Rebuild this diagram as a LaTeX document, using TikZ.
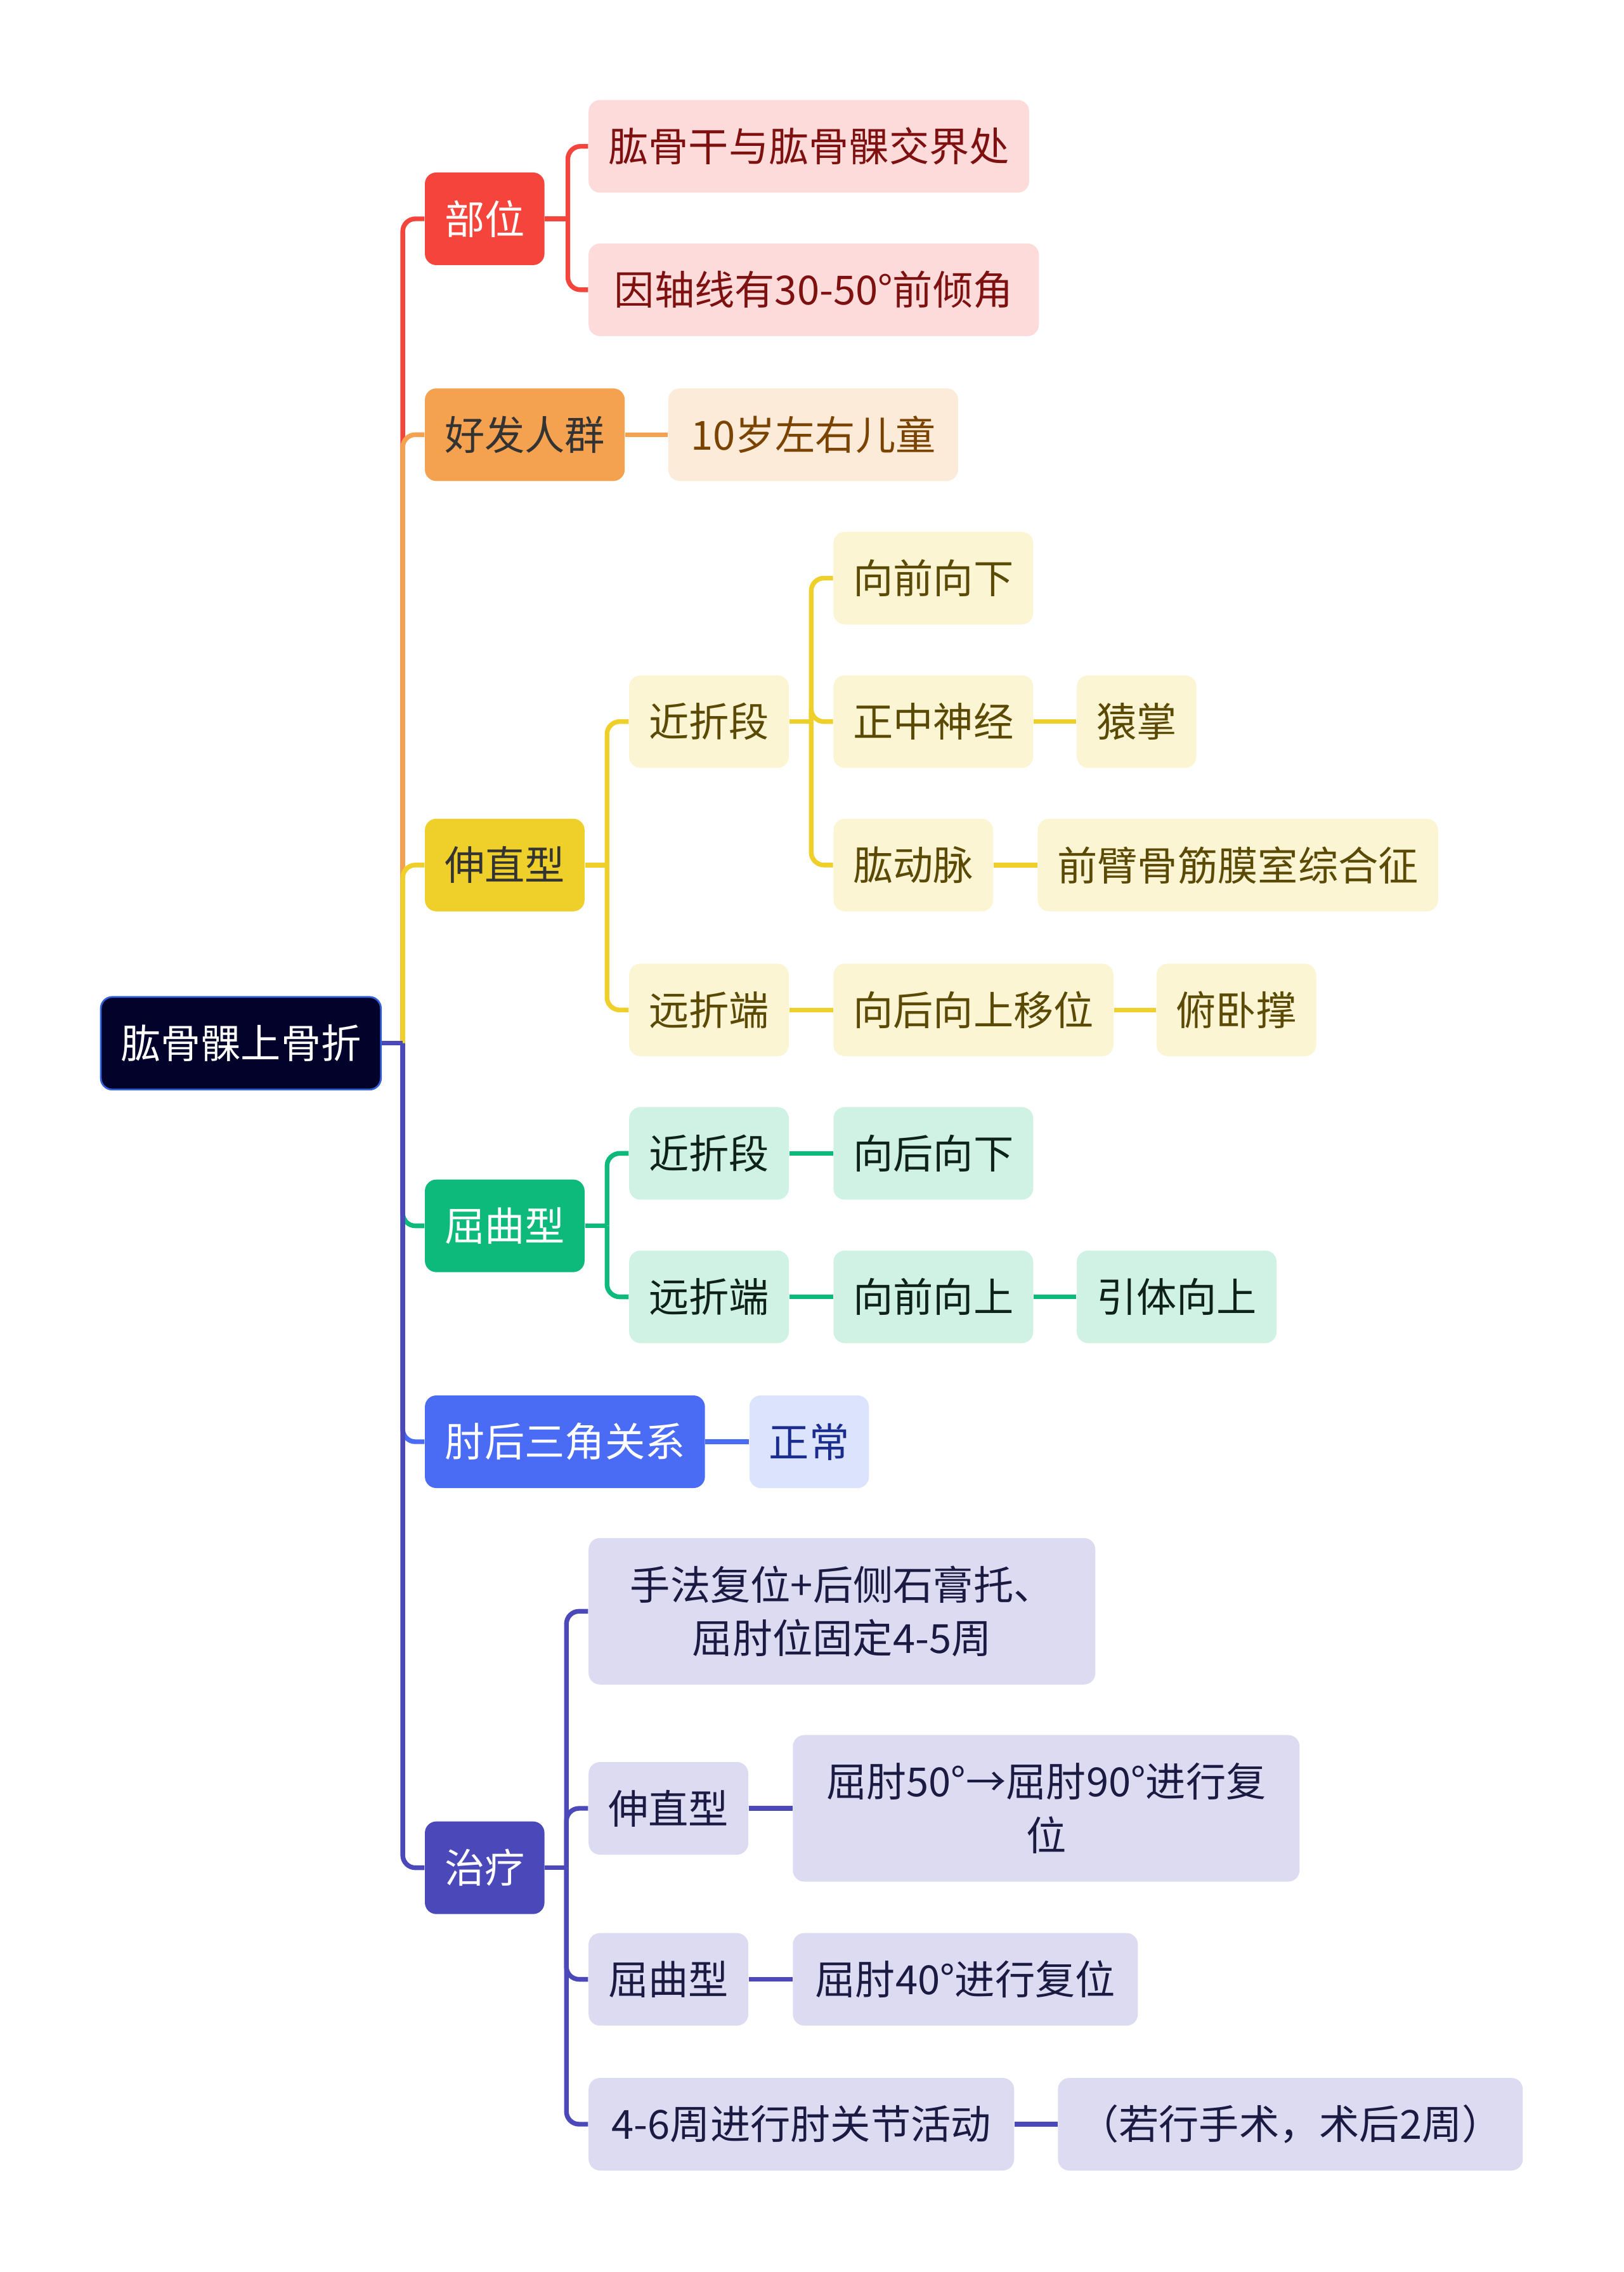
\documentclass[tikz,border=0pt]{standalone}
\usepackage{fontspec}
\setmainfont{Noto Sans CJK SC}
\usepackage{tikz}

\definecolor{rootfill}{HTML}{02022B}
\definecolor{rootline}{HTML}{3362D8}
\definecolor{darktext}{HTML}{333333}
\definecolor{redmain}{HTML}{F5443B}
\definecolor{redsoft}{HTML}{FDDBDB}
\definecolor{redtext}{HTML}{7E1010}
\definecolor{orgmain}{HTML}{F4A24F}
\definecolor{orgsoft}{HTML}{FDEBDA}
\definecolor{orgtext}{HTML}{7B4300}
\definecolor{ylwmain}{HTML}{EFD02A}
\definecolor{ylwsoft}{HTML}{FBF5D3}
\definecolor{ylwtext}{HTML}{5A4A05}
\definecolor{grnmain}{HTML}{0DBA7B}
\definecolor{grnsoft}{HTML}{CFF2E4}
\definecolor{grntext}{HTML}{0E2219}
\definecolor{blumain}{HTML}{4A6CF5}
\definecolor{blusoft}{HTML}{DCE3FC}
\definecolor{blutext}{HTML}{1A2C8E}
\definecolor{indmain}{HTML}{4B49BA}
\definecolor{indsoft}{HTML}{DCDBF2}
\definecolor{indtext}{HTML}{1A1A42}

\begin{document}
\begin{tikzpicture}[x=0.022837cm, y=-0.022837cm,
    box/.style={
        rounded corners=0.18cm,
        minimum height=1.46cm,
        inner xsep=0.31cm,
        inner ysep=0pt,
        anchor=west,
        font=\fontsize{18}{24}\selectfont
    },
    rootbox/.style={
        box,
        fill=rootfill,
        draw=rootline,
        line width=0.8pt,
        text=white
    },
    topic/.style={
        box,
        fill=#1main,
        text=white
    },
    leaf/.style={
        box,
        fill=#1soft,
        text=#1text
    },
    twoline/.style={
        text width=7.37cm,
        align=center,
        minimum height=2.31cm
    },
    link/.style={
        line width=2.1pt
    },
    fork/.style={
        link,
        rounded corners=0.2cm
    }
]

\node[rootbox] (root) at (69,720) {肱骨髁上骨折};

\node[topic=red] (buwei) at (293,151) {部位};
\node[leaf=red] (buwei-a) at (406,101) {肱骨干与肱骨髁交界处};
\node[leaf=red, minimum width=7.10cm] (buwei-b) at (406,200) {因轴线有30-50°前倾角};

\node[topic=org, text=darktext] (renqun) at (293,300) {好发人群};
\node[leaf=org, minimum width=4.57cm] (renqun-a) at (461,300) {10岁左右儿童};

\node[topic=ylw, text=darktext] (shenzhi) at (293,597) {伸直型};
\node[leaf=ylw] (sz-jin) at (434,498) {近折段};
\node[leaf=ylw] (sz-yuan) at (434,697) {远折端};
\node[leaf=ylw] (sz-jin-a) at (575,399) {向前向下};
\node[leaf=ylw] (sz-jin-b) at (575,498) {正中神经};
\node[leaf=ylw] (sz-jin-b1) at (743,498) {猿掌};
\node[leaf=ylw] (sz-jin-c) at (575,597) {肱动脉};
\node[leaf=ylw] (sz-jin-c1) at (716,597) {前臂骨筋膜室综合征};
\node[leaf=ylw] (sz-yuan-a) at (575,697) {向后向上移位};
\node[leaf=ylw] (sz-yuan-a1) at (798,697) {俯卧撑};

\node[topic=grn] (ququ) at (293,846) {屈曲型};
\node[leaf=grn] (qq-jin) at (434,796) {近折段};
\node[leaf=grn] (qq-yuan) at (434,895) {远折端};
\node[leaf=grn] (qq-jin-a) at (575,796) {向后向下};
\node[leaf=grn] (qq-yuan-a) at (575,895) {向前向上};
\node[leaf=grn] (qq-yuan-a1) at (743,895) {引体向上};

\node[topic=blu] (zhouhou) at (293,995) {肘后三角关系};
\node[leaf=blu] (zhouhou-a) at (517,995) {正常};

\node[topic=ind] (zhiliao) at (293,1289) {治疗};
\node[leaf=ind, twoline] (zl-a) at (406,1112) {手法复位+后侧石膏托、\\屈肘位固定4-5周};
\node[leaf=ind] (zl-b) at (406,1248) {伸直型};
\node[leaf=ind, twoline] (zl-b1) at (547,1248) {屈肘50°→屈肘90°进行复\\位};
\node[leaf=ind] (zl-c) at (406,1366) {屈曲型};
\node[leaf=ind, minimum width=5.44cm] (zl-c1) at (547,1366) {屈肘40°进行复位};
\node[leaf=ind, minimum width=6.71cm] (zl-d) at (406,1466) {4-6周进行肘关节活动};
\node[leaf=ind, minimum width=7.33cm] (zl-d1) at (730,1466) {（若行手术，术后2周）};

\coordinate (root-j) at (278,720);
\coordinate (buwei-j) at (392,151);
\coordinate (shenzhi-j) at (419,597);
\coordinate (szjin-j) at (560,498);
\coordinate (ququ-j) at (419,846);
\coordinate (zhiliao-j) at (391,1289);

\foreach \c/\col in {buwei/redmain,renqun/orgmain,shenzhi/ylwmain,ququ/grnmain,zhouhou/blumain,zhiliao/indmain}{
    \draw[fork, draw=\col] (root-j) |- (\c.west);
}
\draw[link, draw=indmain] (root.east) -- (root-j);

\draw[link, draw=redmain] (buwei.east) -- (buwei-j);
\foreach \c in {buwei-a,buwei-b}{
    \draw[fork, draw=redmain] (buwei-j) |- (\c.west);
}

\draw[link, draw=orgmain] (renqun.east) -- (renqun-a.west);

\draw[link, draw=ylwmain] (shenzhi.east) -- (shenzhi-j);
\foreach \c in {sz-jin,sz-yuan}{
    \draw[fork, draw=ylwmain] (shenzhi-j) |- (\c.west);
}
\draw[link, draw=ylwmain] (sz-jin.east) -- (szjin-j);
\foreach \c in {sz-jin-a,sz-jin-b,sz-jin-c}{
    \draw[fork, draw=ylwmain] (szjin-j) |- (\c.west);
}
\foreach \a/\b in {sz-jin-b/sz-jin-b1,sz-jin-c/sz-jin-c1,sz-yuan/sz-yuan-a,sz-yuan-a/sz-yuan-a1}{
    \draw[link, draw=ylwmain] (\a.east) -- (\b.west);
}

\draw[link, draw=grnmain] (ququ.east) -- (ququ-j);
\foreach \c in {qq-jin,qq-yuan}{
    \draw[fork, draw=grnmain] (ququ-j) |- (\c.west);
}
\foreach \a/\b in {qq-jin/qq-jin-a,qq-yuan/qq-yuan-a,qq-yuan-a/qq-yuan-a1}{
    \draw[link, draw=grnmain] (\a.east) -- (\b.west);
}

\draw[link, draw=blumain] (zhouhou.east) -- (zhouhou-a.west);

\draw[link, draw=indmain] (zhiliao.east) -- (zhiliao-j);
\foreach \c in {zl-a,zl-b,zl-c,zl-d}{
    \draw[fork, draw=indmain] (zhiliao-j) |- (\c.west);
}
\foreach \a/\b in {zl-b/zl-b1,zl-c/zl-c1,zl-d/zl-d1}{
    \draw[link, draw=indmain] (\a.east) -- (\b.west);
}

\pgfresetboundingbox
\path[use as bounding box] (0,0) rectangle (1121,1568);
\end{tikzpicture}
\end{document}
